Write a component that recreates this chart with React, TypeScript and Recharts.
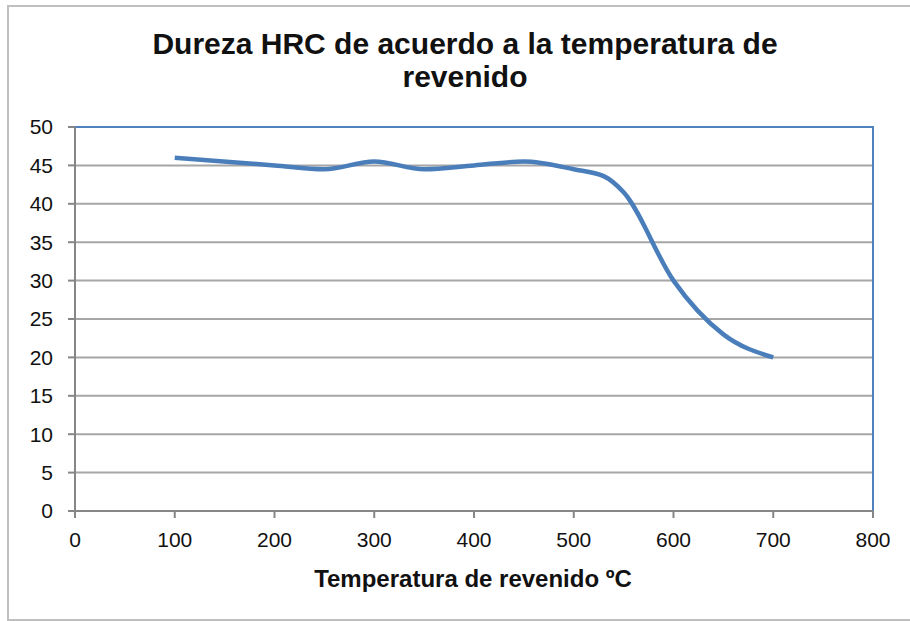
import {
  LineChart,
  Line,
  XAxis,
  YAxis,
  CartesianGrid,
  ReferenceArea,
} from "recharts";

const temperatures = [100, 200, 250, 300, 350, 400, 450, 500, 530, 550, 600, 650, 700];
const hardness = [46, 45, 44.5, 45.5, 44.5, 45, 45.5, 44.5, 43.6, 41.5, 30, 23, 20];
const xTicks = [0, 100, 200, 300, 400, 500, 600, 700, 800];
const yTicks = [0, 5, 10, 15, 20, 25, 30, 35, 40, 45, 50];

const data = temperatures.map((t, i) => ({ temp: t, hrc: hardness[i] }));

const font = "'Liberation Sans', Arial, sans-serif";
const axisGrey = "#868686";

function App() {
  return (
    <div
      style={{
        position: "absolute",
        left: 0,
        top: 0,
        width: 910,
        height: 621,
        background: "#fff",
        fontFamily: font,
        overflow: "hidden",
      }}
    >
      <div
        style={{
          position: "absolute",
          left: 7,
          top: 5,
          width: 920,
          height: 612,
          border: "2px solid #bfbfbf",
        }}
      />
      <div
        style={{
          position: "absolute",
          left: 0,
          top: 27,
          width: 930,
          textAlign: "center",
          fontSize: 30,
          fontWeight: "bold",
          lineHeight: "33px",
          color: "#111",
        }}
      >
        Dureza HRC de acuerdo a la temperatura de
        <br />
        revenido
      </div>

      <div style={{ position: "absolute", left: 0, top: 0 }}>
        <LineChart
          width={910}
          height={621}
          data={data}
          margin={{ top: 127, right: 37, bottom: 0, left: 0 }}
        >
          <ReferenceArea
            x1={0}
            x2={800}
            y1={0}
            y2={50}
            fill="none"
            stroke="#4f81bd"
            strokeWidth={2}
            ifOverflow="visible"
          />
          <CartesianGrid vertical={false} stroke="#a6a6a6" strokeWidth={2} />
          <XAxis
            dataKey="temp"
            type="number"
            domain={[0, 800]}
            ticks={xTicks}
            height={110}
            stroke={axisGrey}
            strokeWidth={2}
            tickSize={7}
            tickMargin={14}
            tick={{ fontSize: 21, fill: "#111", fontFamily: font }}
          />
          <YAxis
            type="number"
            domain={[0, 50]}
            ticks={yTicks}
            width={75}
            stroke={axisGrey}
            strokeWidth={2}
            tickSize={7}
            tickMargin={15}
            tick={{ fontSize: 21, fill: "#111", fontFamily: font }}
          />
          <Line
            type="monotone"
            dataKey="hrc"
            stroke="#4a7ebb"
            strokeWidth={4.5}
            dot={false}
            isAnimationActive={false}
          />
        </LineChart>
      </div>

      <div
        style={{
          position: "absolute",
          left: 0,
          top: 565,
          width: 946,
          textAlign: "center",
          fontSize: 24,
          fontWeight: "bold",
          color: "#111",
        }}
      >
        Temperatura de revenido ºC
      </div>
    </div>
  );
}

export default App;
